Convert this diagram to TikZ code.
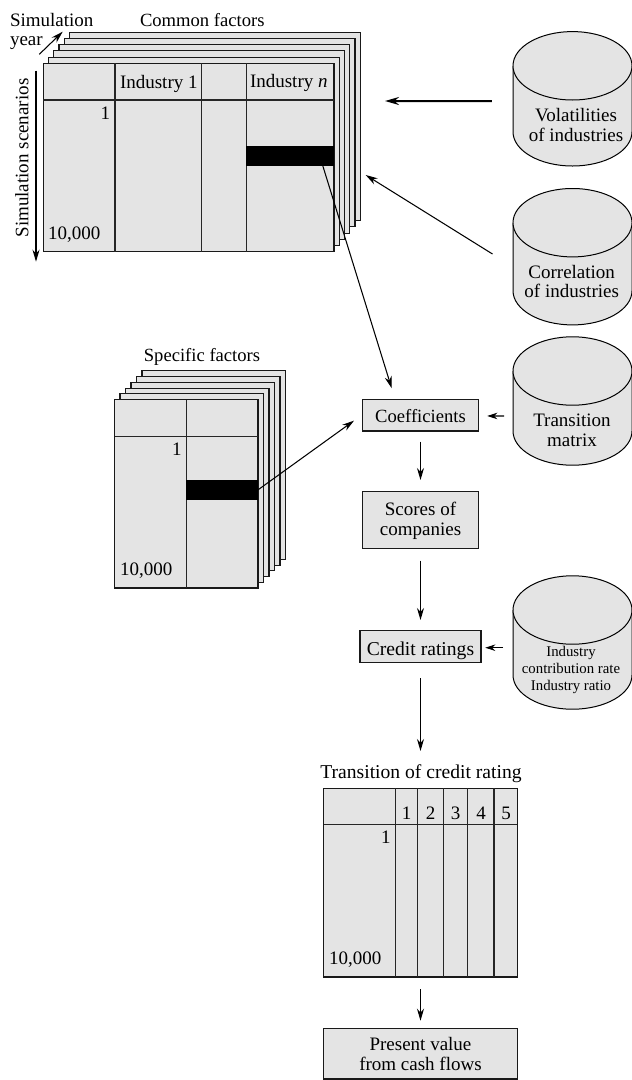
\documentclass[tikz,border=0pt]{standalone}
\usepackage{fontspec}
\setmainfont{Liberation Serif}
\usetikzlibrary{arrows.meta,calc}
\definecolor{panel}{HTML}{E4E4E4}
\newcommand\rn[6][]{%
  \pgfmathsetmacro\rcx{(#3+#5)/2}\pgfmathsetmacro\rcy{(#4+#6)/2}%
  \pgfmathsetmacro\rw{#5-#3}\pgfmathsetmacro\rh{#6-#4}%
  \node[sheet,minimum width=\rw bp,minimum height=\rh bp,#1] (#2) at (\rcx,\rcy) {};}
\newcommand\cyl[3]{%
  \pgfmathsetmacro\cyb{#2+#3}\pgfmathsetmacro\cyc{#2+#3/2}\pgfmathsetmacro\cyh{#3+68}%
  \draw[cylline] (513,#2) arc[start angle=180,end angle=0,x radius=59.5bp,y radius=34.2bp]
     -- (632,\cyb) arc[start angle=0,end angle=-180,x radius=59.5bp,y radius=34.2bp] -- cycle;
  \draw[cylline] (513,#2) arc[start angle=180,end angle=360,x radius=59.5bp,y radius=34.2bp];
  \node[minimum width=119bp,minimum height=\cyh bp,inner sep=0pt] (#1) at (572.5,\cyc) {};}
\begin{document}
\begin{tikzpicture}[x=1bp,y=-1bp,
  sheet/.style={draw=black!90,fill=panel,line width=1.15bp,inner sep=0pt,outer sep=0pt},
  cylline/.style={draw=black,fill=panel,line width=1bp},
  tline/.style={draw=black!85,line width=1.1bp},
  band/.style={fill=black,draw=none,inner sep=0pt,outer sep=0pt},
  txt/.style={inner sep=0pt,outer sep=0pt,font=\fontsize{19bp}{19.9bp}\selectfont},
  txtb/.style={inner sep=0pt,outer sep=0pt,font=\fontsize{18.6bp}{19.9bp}\selectfont},
  txtc/.style={inner sep=0pt,outer sep=0pt,font=\fontsize{19.6bp}{19.9bp}\selectfont},
  small/.style={inner sep=0pt,outer sep=0pt,font=\fontsize{14.8bp}{16.7bp}\selectfont},
  arr/.style={-{Stealth[length=12bp,width=7bp]},line width=1.05bp,black},
  arrs/.style={-{Stealth[length=10bp,width=6.5bp]},line width=1.05bp,black},
  thickarr/.style={-{Stealth[length=14bp,width=8bp]},line width=2bp,black}]
\useasboundingbox (0,0) rectangle (632,1080);
\fill[white] (0,0) rectangle (632,1080);

% common factor stack
\foreach \i in {5,4,3,2,1}{
  \pgfmathsetmacro\xa{43.3+5.24*\i}\pgfmathsetmacro\xb{334+5.24*\i}
  \pgfmathsetmacro\ya{63.3-6.2*\i}\pgfmathsetmacro\yb{251.7-6.2*\i}
  \rn{commonS\i}{\xa}{\ya}{\xb}{\yb}
}
\rn{common}{43.3}{63.3}{334}{251.7}
\draw[tline] (43.3,100) -- (334,100);
\draw[tline] (115,63.3) -- (115,251.7);
\draw[tline] (201.7,63.3) -- (201.7,251.7);
\draw[tline] (246.3,63.3) -- (246.3,251.7);
\rn[band]{bandA}{246.3}{146}{334}{166}

% specific factor stack
\foreach \i in {5,4,3,2,1}{
  \pgfmathsetmacro\xa{114.5+5.5*\i}\pgfmathsetmacro\xb{258+5.5*\i}
  \pgfmathsetmacro\ya{399.7-5.8*\i}\pgfmathsetmacro\yb{588-5.7*\i}
  \rn{specS\i}{\xa}{\ya}{\xb}{\yb}
}
\rn{spec}{114.5}{399.7}{258}{588}
\draw[tline] (114.5,436.7) -- (258,436.7);
\draw[tline] (186.3,399.7) -- (186.3,588);
\rn[band]{bandB}{186.3}{480}{258}{499.7}

% transition table
\rn{trans}{323.7}{788.3}{517.3}{977}
\draw[tline] (323.7,824.7) -- (517.3,824.7);
\foreach \x in {395.7,417.7,443.3,467.7,494}{\draw[tline] (\x,788.3) -- (\x,977);}

% boxes
\rn{coef}{362.3}{399.3}{478.7}{431}
\rn{scores}{362.3}{491.7}{478.7}{548.3}
\rn{credit}{360}{630.7}{481}{662.3}
\rn{present}{323.7}{1028.7}{517.3}{1079}

% cylinders
\cyl{vol}{65.8}{66}
\cyl{corr}{222.7}{68}
\cyl{tmat}{371}{60}
\cyl{ind}{610}{65}

% texts
\node[txt,anchor=base west] (tSim) at (10,26) {Simulation};
\node[txt,anchor=base west] (tYear) at (10,45) {year};
\node[txtb,anchor=base west] (tCommon) at (140,26.5) {Common factors};
\node[txt,anchor=base,rotate=90] (tScen) at (28.3,158) {Simulation scenarios};
\node[txt,anchor=base west] (tI1) at (120,88.3) {Industry 1};
\node[txt,anchor=base west] (tIn) at (250,87) {Industry \textit{n}};
\node[txt,anchor=base east] (tA1) at (110,119) {1};
\node[txt,anchor=base west] (tA2) at (48,239) {10,000};
\node[txtb,anchor=base] (tSpec) at (202,361.7) {Specific factors};
\node[txt,anchor=base east] (tB1) at (181.7,455) {1};
\node[txt,anchor=base west] (tB2) at (120,575) {10,000};
\node[txtc,anchor=base] (tTrans) at (421,778) {Transition of credit rating};
\node[txt,anchor=base] (tC1) at (406.7,819.3) {1};
\node[txt,anchor=base] (tC2) at (430.5,819.3) {2};
\node[txt,anchor=base] (tC3) at (455.5,819.3) {3};
\node[txt,anchor=base] (tC4) at (481,819.3) {4};
\node[txt,anchor=base] (tC5) at (506,819.3) {5};
\node[txt,anchor=base east] (tC6) at (390.7,843) {1};
\node[txt,anchor=base west] (tC7) at (329,964) {10,000};
\node[txtb,anchor=base] (tCoef) at (420.5,422.7) {Coefficients};
\node[txtc,anchor=base] (tCred) at (420.5,655) {Credit ratings};
\node[txt,align=center] (tScore) at (420.5,521) {Scores of\\companies};
\node[txt,align=center] (tPres) at (420.5,1054) {Present value\\from cash flows};
\node[txt,align=center] (tVol) at (576,125) {Volatilities\\of industries};
\node[txt,align=center] (tCorr) at (571.7,281.5) {Correlation\\of industries};
\node[txt,align=center] (tMat) at (572,430.5) {Transition\\matrix};
\node[small,align=center] (tInd) at (571,670) {Industry\\contribution rate\\Industry ratio};

% connectors
\coordinate (yearA) at (39.3,54.3);
\coordinate (yearB) at (62.7,31.7);
\coordinate (scenA) at (36,70.7);
\coordinate (scenB) at (36,261.7);
\draw[arr] (yearA) -- (yearB);
\draw[arr] (scenA) -- (scenB);
\draw[thickarr] ([shift={(-21,2.2)}]vol.west) -- ([shift={(24.8,-25.5)}]commonS5.east);
\draw[arr] ([shift={(-20.3,-2.7)}]corr.west) -- ([shift={(5.5,48.5)}]commonS5.east);
\draw[arr] ([shift={(32.7,0)}]bandA.south) -- ([shift={(-28.8,-11)}]coef.north);
\draw[arr] (bandB.east) -- ([shift={(-8.3,5.5)}]coef.west);
\draw[arrs] ([shift={(-8.7,15)}]tmat.west) -- ([shift={(8.6,0.8)}]coef.east);
\draw[arr] ([shift={(0,10.7)}]coef.south) -- ([shift={(0,-11.7)}]scores.north);
\draw[arr] ([shift={(0,12.4)}]scores.south) -- ([shift={(0,-10.7)}]credit.north);
\draw[arrs] ([shift={(-9.7,5.2)}]ind.west) -- ([shift={(4.3,1.2)}]credit.east);
\draw[arr] ([shift={(0,16)}]credit.south) -- ([shift={(0,-37.3)}]trans.north);
\draw[arr] ([shift={(0,12.3)}]trans.south) -- ([shift={(0,-8)}]present.north);
\end{tikzpicture}
\end{document}
